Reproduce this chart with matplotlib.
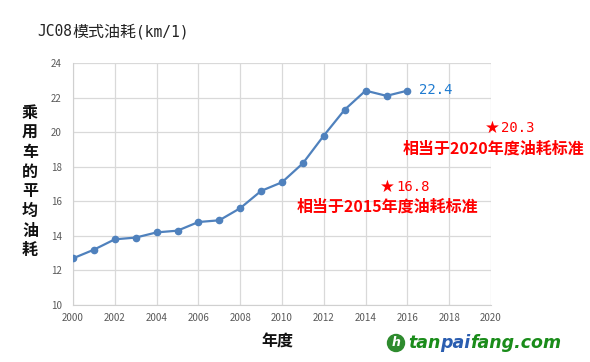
import matplotlib
matplotlib.use("Agg")
import matplotlib.pyplot as plt
from matplotlib.patches import Ellipse

plt.rcParams['font.family'] = ['Noto Sans CJK SC', 'DejaVu Sans']

years = list(range(2000, 2017))
mileage = [12.7, 13.2, 13.8, 13.9, 14.2, 14.3, 14.8, 14.9, 15.6, 16.6, 17.1, 18.2, 19.8, 21.3, 22.4, 22.1, 22.4]
xticks = list(range(2000, 2021, 2))
yticks = list(range(10, 25, 2))
title_parts = ["JC08", "模式油耗", "(km/1)"]
ylabel = "乘用车的平均油耗"
xlabel = "年度"
last_label = "22.4"
std2020 = ("20.3", "相当于2020年度油耗标准")
std2015 = ("16.8", "相当于2015年度油耗标准")

MONO = ['DejaVu Sans Mono', 'Noto Sans CJK SC', 'DejaVu Sans']

W, H = 590, 362
fig = plt.figure(figsize=(W / 100, H / 100), dpi=100)
ax = fig.add_axes([73 / W, 1 - 305 / H, (491 - 73) / W, (305 - 63) / H])

ax.plot(years, mileage, color='#4f81bd', lw=1.6, marker='o', ms=4.5, zorder=3)
ax.set_xlim(2000, 2020)
ax.set_ylim(10, 24)
ax.set_xticks(xticks)
ax.set_yticks(yticks)
ax.grid(True, color='#d9d9d9', lw=0.9)
ax.set_axisbelow(True)
for s in ['top', 'right']:
    ax.spines[s].set_visible(False)
for s in ['left', 'bottom']:
    ax.spines[s].set_color('#d0d0d0')
ax.tick_params(length=0, labelsize=7, colors='#595959', pad=6)
ax.tick_params(axis='y', pad=8)

def fx(px):
    return px / W

def fy(py):
    return 1 - py / H

fig.canvas.draw()
r = fig.canvas.get_renderer()

# title in segments
x = 37
for part in title_parts:
    is_cjk = any(ord(ch) > 0x2000 for ch in part)
    t = fig.text(x / W, fy(32), part, fontsize=11.5 if is_cjk else 10.5, va='center', ha='left',
                 color='#222222', family=['Noto Sans CJK SC'] if is_cjk else MONO)
    x = t.get_window_extent(r).x1

for i, c in enumerate(ylabel):
    fig.text(fx(30), fy(113 + i * 19.6), c, fontsize=11.5, fontweight='bold',
             ha='center', va='center', color='#111111')

fig.text(fx(277), fy(342), xlabel, fontsize=11.5, fontweight='bold', ha='center', va='center', color='#111111')

fig.text(fx(419), fy(90), last_label, fontsize=10, color='#1f7bd0', ha='left', va='center', family=MONO)

def star_label(px, py, num):
    s = fig.text(px / W, fy(py), "★", fontsize=12, color='#ff0000', ha='left', va='center',
                 family=['DejaVu Sans'])
    x1 = s.get_window_extent(r).x1
    fig.text((x1 + 1) / W, fy(py), num, fontsize=10, color='#ff0000', ha='left', va='center', family=MONO)

star_label(485, 128, std2020[0])
fig.text(fx(403), fy(149), std2020[1], fontsize=11.5, fontweight='bold', color='#ff0000', ha='left', va='center')
star_label(380, 187, std2015[0])
fig.text(fx(297), fy(207), std2015[1], fontsize=11.5, fontweight='bold', color='#ff0000', ha='left', va='center')

# watermark
fig.patches.append(Ellipse((fx(396), fy(343)), 17 / W, 17 / H, transform=fig.transFigure,
                           color='#2e8b2e', zorder=5))
fig.text(fx(396), fy(343), "h", fontsize=9, fontweight='bold', style='italic', color='white',
         ha='center', va='center', family='DejaVu Sans', zorder=6)
x = 408
for part, col in [("tan", '#1a8c1a'), ("pai", '#2a5db0'), ("fang.com", '#1a8c1a')]:
    t = fig.text(x / W, fy(343), part, fontsize=12.5, fontweight='bold', style='italic',
                 color=col, ha='left', va='center', family='DejaVu Sans')
    x = t.get_window_extent(r).x1

fig.savefig("out.png", dpi=100)
